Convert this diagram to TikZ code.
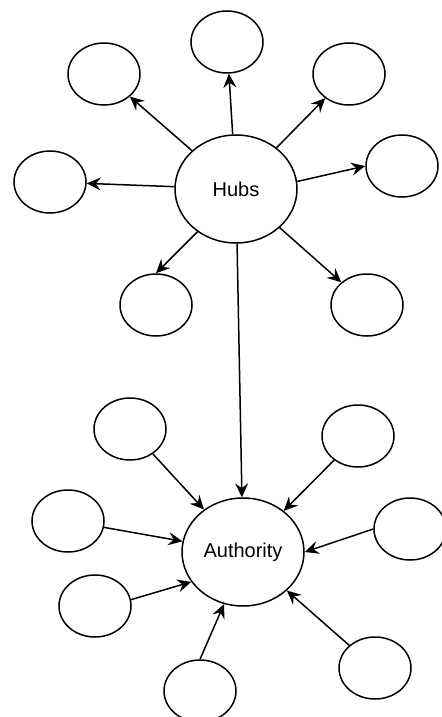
\documentclass[tikz,border=0pt]{standalone}
\usepackage{fontspec}
\setmainfont{Liberation Sans}
\usetikzlibrary{shapes.geometric,arrows.meta}

\begin{document}
\begin{tikzpicture}[x=0.5pt,y=-0.5pt,
  leaf/.style={ellipse,draw,line width=0.75pt,minimum width=36pt,minimum height=31pt,inner sep=0pt},
  core/.style={ellipse,draw,line width=0.75pt,minimum width=61pt,minimum height=54pt,inner sep=0pt,font=\fontsize{10}{12}\selectfont},
  link/.style={-{Stealth[length=7pt,width=6.5pt,inset=2.5pt]},line width=0.75pt}]
\useasboundingbox (0,0) rectangle (441,717);
\node[core] (hubs) at (236,189) {Hubs};
\node[core] (auth) at (243,552) {Authority};
% leaves round the hubs node
\foreach \n/\x/\y in {ht/227/42,htl/104/74,htr/349/74,hl/50/182,hr/402/166,hbl/156/305,hbr/367/305}
  {\node[leaf] (\n) at (\x,\y) {};}
% leaves round the authority node
\foreach \n/\x/\y in {aul/130/429,aur/358/436,aml/68/521,amr/410/529,all/95/606,ab/200/691,alr/375/668}
  {\node[leaf] (\n) at (\x,\y) {};}
\foreach \n in {ht,htl,htr,hl,hbr} {\draw[link] (hubs) -- (\n);}
\draw[link] (hubs.7) -- (hr.west);
\draw[link] (hubs.-132) -- (hbl.north);
\draw[link] (hubs) -- (auth);
\foreach \n in {aul,aur,aml,alr} {\draw[link] (\n) -- (auth);}
\draw[link] (amr.west) -- (auth.east);
\draw[link] (all.10) -- (auth.-150);
\draw[link] (ab.north) -- (auth.-110);
\end{tikzpicture}
\end{document}
